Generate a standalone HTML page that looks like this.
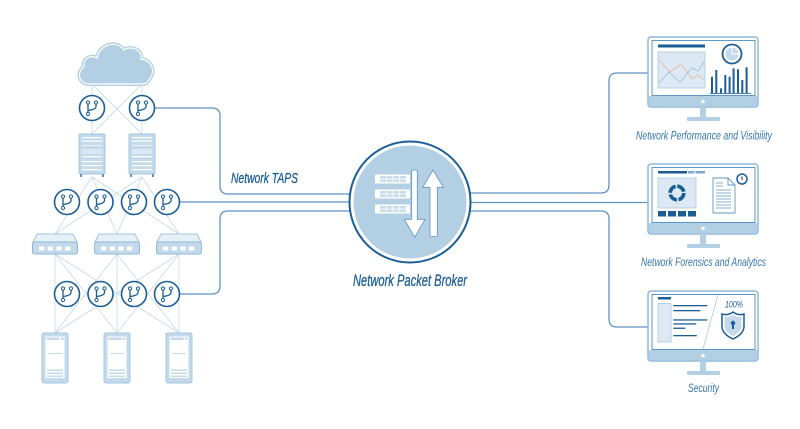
<!DOCTYPE html>
<html><head><meta charset="utf-8"><style>
html,body{margin:0;padding:0;background:#fff;}
svg{display:block;}
text{font-family:"Liberation Sans Narrow","Liberation Sans",sans-serif;font-style:italic;}
</style></head><body>
<svg width="800" height="429" viewBox="0 0 800 429" xmlns="http://www.w3.org/2000/svg">
<defs>
<g id="tap">
<circle r="12.5" fill="#fff" stroke="#1b5e96" stroke-width="1.6"/>
<path d="M-4,-4 V4.5 M4,-4 V-1.5 Q4,1.5 -4,2.5" fill="none" stroke="#1b5e96" stroke-width="1.3"/>
<circle cx="-4" cy="-5.5" r="1.6" fill="#fff" stroke="#1b5e96" stroke-width="1"/>
<circle cx="4" cy="-5.5" r="1.6" fill="#fff" stroke="#1b5e96" stroke-width="1"/>
<circle cx="-4" cy="6" r="1.6" fill="#fff" stroke="#1b5e96" stroke-width="1"/>
</g>
<g id="rack">
<rect x="-13" y="0" width="26" height="40" rx="1.5" fill="#c4daeb" stroke="#a4c5df" stroke-width="1"/>
<rect x="-10" y="3" width="20" height="1.2" fill="#fff"/>
<rect x="-10" y="6.5" width="20" height="1.2" fill="#fff"/>
<rect x="-10" y="11" width="20" height="0.8" fill="#fff" opacity="0.8"/>
<rect x="-10" y="15" width="20" height="5" fill="#dbe8f3"/>
<rect x="-10" y="22" width="20" height="1.2" fill="#fff"/>
<rect x="-10" y="27" width="20" height="1.2" fill="#fff"/>
<rect x="-10" y="31" width="20" height="1.2" fill="#fff"/>
<rect x="-10" y="35" width="20" height="1.2" fill="#fff"/>
<rect x="-12" y="40" width="2" height="3" fill="#5d95c4"/>
<rect x="10" y="40" width="2" height="3" fill="#5d95c4"/>
</g>
<g id="switch">
<polygon points="-18,0 18,0 22,8 -22,8" fill="#e6f0f7" stroke="#a4c5df" stroke-width="1"/>
<rect x="-22.5" y="8" width="45" height="12" rx="2" fill="#c4daeb" stroke="#8fb8d8" stroke-width="1"/>
<rect x="-16" y="12.5" width="5.2" height="4" fill="#fff"/>
<rect x="-7.3" y="12.5" width="5.2" height="4" fill="#fff"/>
<rect x="1.4" y="12.5" width="5.2" height="4" fill="#fff"/>
<rect x="10" y="12.5" width="5.2" height="4" fill="#fff"/>
</g>
<g id="server">
<rect x="-13" y="0" width="26" height="50" rx="2" fill="#c4daeb" stroke="#a4c5df" stroke-width="1"/>
<rect x="-9.5" y="3.5" width="19" height="41.5" fill="#fff"/>
<rect x="-8.5" y="4.5" width="13" height="2.5" fill="#c4daeb"/>
<rect x="6" y="4.5" width="2.5" height="2.5" fill="#c4daeb"/>
<rect x="-7" y="20" width="14" height="1" fill="#c4daeb"/>
<rect x="-8" y="36.5" width="16" height="1.5" fill="#c4daeb"/>
<rect x="-8" y="39.5" width="16" height="1.5" fill="#c4daeb"/>
<rect x="-8" y="42.5" width="16" height="1.5" fill="#c4daeb"/>
</g>
<g id="monitor">
<rect x="648" y="37" width="110" height="70" rx="3" fill="#fff" stroke="#8fb8d8" stroke-width="1.5"/>
<rect x="652" y="40.5" width="103" height="55" fill="none" stroke="#5d95c4" stroke-width="1"/>
<path d="M648.8,96 H757.2 V104 Q757.2,106.3 755,106.3 H651 Q648.8,106.3 648.8,104 Z" fill="#b3cfe3"/>
<circle cx="703" cy="101.5" r="1.7" fill="#fff"/>
<rect x="700" y="107" width="6" height="11" fill="#b3cfe3"/>
<rect x="687" y="117" width="33" height="4" rx="1" fill="#b3cfe3"/>
</g>
</defs>

<!-- mesh lines -->
<g stroke="#c2d8ea" stroke-width="0.8" fill="none">
<line x1="92" y1="84" x2="92" y2="134"/>
<line x1="142" y1="84" x2="142" y2="134"/>
<line x1="92" y1="84" x2="142" y2="134"/>
<line x1="142" y1="84" x2="92" y2="134"/>
<line x1="92" y1="177" x2="55" y2="234"/>
<line x1="92" y1="177" x2="117" y2="234"/>
<line x1="92" y1="177" x2="179" y2="234"/>
<line x1="142" y1="177" x2="55" y2="234"/>
<line x1="142" y1="177" x2="117" y2="234"/>
<line x1="142" y1="177" x2="179" y2="234"/>
<line x1="55" y1="254" x2="55" y2="333"/>
<line x1="55" y1="254" x2="117" y2="333"/>
<line x1="55" y1="254" x2="179" y2="333"/>
<line x1="117" y1="254" x2="55" y2="333"/>
<line x1="117" y1="254" x2="117" y2="333"/>
<line x1="117" y1="254" x2="179" y2="333"/>
<line x1="179" y1="254" x2="55" y2="333"/>
<line x1="179" y1="254" x2="117" y2="333"/>
<line x1="179" y1="254" x2="179" y2="333"/>
</g>

<!-- connectors -->
<g stroke="#5d95c4" stroke-width="1.3" fill="none">
<path d="M154,108 H212 Q220,108 220,116 V186 Q220,194 228,194 H352"/>
<path d="M179,202 H352"/>
<path d="M179,294 H212 Q220,294 220,286 V219 Q220,211 228,211 H352"/>
<path d="M468,193 H601 Q609,193 609,185 V81 Q609,73 617,73 H649"/>
<path d="M468,202.5 H649"/>
<path d="M468,211 H601 Q609,211 609,219 V319 Q609,327 617,327 H649"/>
</g>

<!-- cloud -->
<path d="M89,84 C79,84 76,72 84,67 C82,59 91,54 97,58 C99,45 116,39 124,50 C131,45 143,50 141,59 C151,60 156,71 150,78 C148,82 146,84 143,84 Z" fill="#b3cfe3" stroke="#b3cfe3" stroke-width="4"/>
<path d="M89,84 C79,84 76,72 84,67 C82,59 91,54 97,58 C99,45 116,39 124,50 C131,45 143,50 141,59 C151,60 156,71 150,78 C148,82 146,84 143,84 Z" fill="#b3cfe3" stroke="#fff" stroke-width="1.2"/>

<!-- left devices -->
<use href="#tap" x="92" y="108"/>
<use href="#tap" x="142" y="108"/>
<use href="#rack" x="92" y="134"/>
<use href="#rack" x="142" y="134"/>
<use href="#tap" x="67" y="202"/>
<use href="#tap" x="100.5" y="202"/>
<use href="#tap" x="134" y="202"/>
<use href="#tap" x="167" y="202"/>
<use href="#switch" x="55" y="234"/>
<use href="#switch" x="117" y="234"/>
<use href="#switch" x="179" y="234"/>
<use href="#tap" x="67" y="294"/>
<use href="#tap" x="100.5" y="294"/>
<use href="#tap" x="134" y="294"/>
<use href="#tap" x="167" y="294"/>
<use href="#server" x="55" y="333"/>
<use href="#server" x="117" y="333"/>
<use href="#server" x="179" y="333"/>

<text x="231" y="183" font-size="15" fill="#1b5e96" stroke="#1b5e96" stroke-width="0.3" textLength="67" lengthAdjust="spacingAndGlyphs">Network TAPS</text>

<!-- broker -->
<circle cx="410" cy="202" r="60.5" fill="#fff" stroke="#1b5e96" stroke-width="2"/>
<circle cx="410" cy="202" r="56.5" fill="#b3cfe3"/>
<g>
<rect x="375" y="174.5" width="35" height="9" rx="1" fill="#fff"/>
<rect x="375" y="189.5" width="35" height="9" rx="1" fill="#fff"/>
<rect x="375" y="204.5" width="35" height="9" rx="1" fill="#fff"/>
<g fill="#c9dcec">
<rect x="380" y="176" width="26" height="6"/>
<rect x="380" y="191" width="26" height="6"/>
<rect x="380" y="206" width="26" height="6"/>
</g>
<g stroke="#fff" stroke-width="0.8">
<path d="M380,179 H406 M386.5,176 V182 M393,176 V182 M399.5,176 V182"/>
<path d="M380,194 H406 M386.5,191 V197 M393,191 V197 M399.5,191 V197"/>
<path d="M380,209 H406 M386.5,206 V212 M393,206 V212 M399.5,206 V212"/>
</g>
</g>
<path d="M411.7,171 Q411.7,170 414.5,170 Q417.3,170 417.3,171 V219.3 H425 L414.7,237.3 L404.3,219.3 H411.7 Z" fill="#fff" stroke="#5d95c4" stroke-width="0.8"/>
<path d="M430,236 Q430,236.7 433.6,236.7 Q437.3,236.7 437.3,236 V187.3 H443.3 L433,170 L422.7,187.3 H430 Z" fill="#fff" stroke="#5d95c4" stroke-width="0.8"/>

<text x="353" y="286" font-size="16.5" fill="#1b5e96" stroke="#1b5e96" stroke-width="0.3" textLength="114" lengthAdjust="spacingAndGlyphs">Network Packet Broker</text>

<!-- monitor 1 -->
<use href="#monitor"/>
<rect x="658" y="44.5" width="47" height="3" fill="#1b5e96"/>
<rect x="658" y="52" width="47" height="36" fill="#dce9f4" stroke="#a9c8e0" stroke-width="0.8"/>
<polyline points="659,60 670,72 681,64 692,79 698,75 704,80" fill="none" stroke="#e8b79a" stroke-width="0.8"/>
<polyline points="659,83 669,72 680,82 692,68 698,71 704,62" fill="none" stroke="#9dbfdc" stroke-width="0.8"/>
<circle cx="732" cy="54" r="9.5" fill="#fff" stroke="#1b5e96" stroke-width="1.8"/>
<circle cx="732" cy="54" r="6.5" fill="#c4daeb"/>
<path d="M732,54 V47.5 M732,54 H738.5" stroke="#fff" stroke-width="0.9"/>
<g fill="#1b5e96">
<rect x="711" y="76.7" width="2" height="16.6"/>
<rect x="715.3" y="70" width="2" height="23.3"/>
<rect x="720" y="88.3" width="2" height="5"/>
<rect x="724.3" y="75" width="2" height="18.3"/>
<rect x="728.6" y="76.7" width="2" height="16.6"/>
<rect x="732.6" y="68.3" width="2" height="25"/>
<rect x="737" y="69.3" width="2" height="24"/>
<rect x="741.3" y="80" width="2" height="13.3"/>
<rect x="745.6" y="67.3" width="2" height="26"/>
</g>
<rect x="710" y="93" width="41" height="0.8" fill="#1b5e96"/>
<text x="636" y="139.5" font-size="11.5" fill="#3676ae" textLength="136" lengthAdjust="spacingAndGlyphs">Network Performance and Visibility</text>

<!-- monitor 2 -->
<use href="#monitor" y="127"/>
<rect x="658" y="171" width="29" height="2.5" fill="#1b5e96"/>
<rect x="688" y="171" width="6.5" height="2.5" fill="#7fa9cf"/>
<rect x="695.5" y="171" width="9.5" height="2.5" fill="#7fa9cf"/>
<rect x="658" y="178" width="38" height="30" fill="#dce9f4" stroke="#a9c8e0" stroke-width="0.8"/>
<circle cx="677" cy="193" r="6.8" fill="none" stroke="#1b5e96" stroke-width="3.6" stroke-dasharray="9 1.7"/>
<g fill="#1b5e96">
<rect x="658" y="211" width="8" height="5.5"/>
<rect x="668" y="211" width="8" height="5.5"/>
<rect x="678" y="211" width="8" height="5.5"/>
<rect x="688" y="211" width="8" height="5.5"/>
</g>
<path d="M713,178 H728 L735,185 V213 H713 Z" fill="#fff" stroke="#5d95c4" stroke-width="0.9"/>
<path d="M728,178 V185 H735" fill="none" stroke="#5d95c4" stroke-width="0.9"/>
<g stroke="#5d95c4" stroke-width="0.8">
<path d="M716,183 H723 M716,186 H723 M716,190 H731 M716,193 H731 M716,196 H731 M716,199 H731 M716,202 H731 M716,205 H731 M716,208 H731"/>
</g>
<circle cx="742" cy="179" r="5" fill="#fff" stroke="#1b5e96" stroke-width="1.5"/>
<path d="M742,176.5 V180" stroke="#1b5e96" stroke-width="1.2"/>
<text x="641" y="266" font-size="11.5" fill="#3676ae" textLength="125" lengthAdjust="spacingAndGlyphs">Network Forensics and Analytics</text>

<!-- monitor 3 -->
<use href="#monitor" y="254"/>
<line x1="718" y1="295" x2="703" y2="349" stroke="#a9c8e0" stroke-width="0.8"/>
<rect x="658" y="297" width="13" height="2.5" fill="#1b5e96"/>
<rect x="658" y="303.5" width="13" height="38.5" fill="#dce9f4" stroke="#a9c8e0" stroke-width="0.8"/>
<g fill="#1b5e96">
<rect x="673.3" y="305" width="34" height="1.3"/>
<rect x="673.3" y="310" width="27" height="1.3"/>
<rect x="673.3" y="319.3" width="34" height="1.3"/>
<rect x="673.3" y="323.3" width="23" height="1.3"/>
<rect x="673.3" y="327.6" width="12" height="1.3"/>
<rect x="673.3" y="335" width="23.5" height="1.3"/>
</g>
<text x="725" y="307.7" font-size="9" fill="#1b5e96" textLength="18" lengthAdjust="spacingAndGlyphs">100%</text>
<path d="M722,314 Q727.5,316 733,312 Q738.5,316 744,314 L744,326 Q744,334 733,339 Q722,334 722,326 Z" fill="#fff" stroke="#1b5e96" stroke-width="1.5"/>
<path d="M724.5,316.5 Q729,317.5 733,315 Q737,317.5 741.5,316.5 L741.5,326 Q741.5,332 733,336 Q724.5,332 724.5,326 Z" fill="#c4daeb"/>
<circle cx="733" cy="323" r="2.2" fill="#1b5e96"/>
<rect x="732" y="324" width="2" height="5" fill="#1b5e96"/>
<text x="688" y="392" font-size="11.5" fill="#3676ae" textLength="31" lengthAdjust="spacingAndGlyphs">Security</text>
</svg>
</body></html>
